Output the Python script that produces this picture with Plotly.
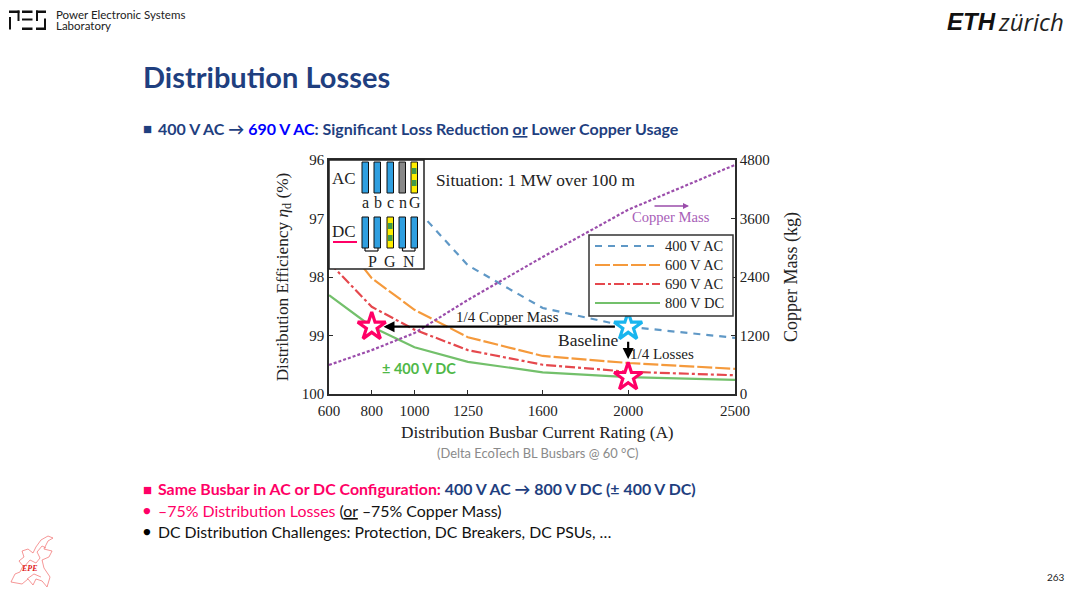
import plotly.graph_objs as go

# the page keeps its 8px body margin, so the figure is 8px smaller and shifted
PAGE_W = 1080
PAGE_H = 591
OFFSET = 8
W = PAGE_W - 2 * OFFSET
H = PAGE_H - OFFSET

# data
current = [600, 800, 1000, 1250, 1600, 2000, 2500]
eta_400ac = [95.6, 96.2, 96.8, 97.8, 98.53, 98.85, 99.04]
eta_600ac = [97.1, 98.02, 98.56, 99.03, 99.35, 99.47, 99.57]
eta_690ac = [97.75, 98.51, 98.9, 99.25, 99.5, 99.62, 99.68]
eta_800dc = [98.31, 98.85, 99.2, 99.45, 99.63, 99.71, 99.76]
copper_mass = [595, 900, 1250, 1930, 2810, 3780, 4700]

star_red_x = [800, 2000]
star_red_y = [98.85, 99.71]
star_blue_x = [2000]
star_blue_y = [98.85]

x_ticks = [600, 800, 1000, 1250, 1600, 2000, 2500]
eta_ticks = [96, 97, 98, 99, 100]
mass_ticks = [0, 1200, 2400, 3600, 4800]

NAVY = "#1f3f7f"
PINK = "#ff0066"
SERIF = "Liberation Serif"
SANS = "Lato"
DARK = "#2b2b2b"
BLUE_LINE = "#5f98c6"
ORANGE_LINE = "#f59a3c"
RED_LINE = "#e5484d"
GREEN_LINE = "#73c06b"
DASH_400 = "7px,6px"
DASH_600 = "15px,3px"
DASH_690 = "10px,3px,3px,3px"


def px(x):
    return (x - OFFSET) / W


def py(y):
    return 1 - (y - OFFSET) / H


def rect(x0, y0, x1, y1, fill, line=None, lw=0):
    return dict(type="rect", xref="paper", yref="paper", layer="above",
                x0=px(x0), y0=py(y0), x1=px(x1), y1=py(y1),
                fillcolor=fill, line=dict(color=line or fill, width=lw))


def seg(x0, y0, x1, y1, color="#111111", lw=1.2, dash="solid"):
    return dict(type="line", xref="paper", yref="paper", layer="above",
                x0=px(x0), y0=py(y0), x1=px(x1), y1=py(y1),
                line=dict(color=color, width=lw, dash=dash))


def squiggle(points, color="#f06a6a", lw=0.7):
    path = "M " + " L ".join(f"{px(a):.4f} {py(b):.4f}" for a, b in points)
    return dict(type="path", xref="paper", yref="paper", path=path, layer="above",
                line=dict(color=color, width=lw))


def label(x, y, text, size, color="#000000", family=SANS, anchor="left"):
    # left anchored annotations sit about 2px to the right of x
    if anchor == "left":
        x = x - 2
    return dict(xref="paper", yref="paper", x=px(x), y=py(y), text=text,
                showarrow=False, xanchor=anchor, yanchor="middle",
                font=dict(size=size, color=color, family=family))


fig = go.Figure()

fig.add_trace(go.Scatter(x=current, y=eta_400ac, name="400 V AC", mode="lines",
                         line=dict(color=BLUE_LINE, width=2.2, dash=DASH_400)))
fig.add_trace(go.Scatter(x=current, y=eta_600ac, name="600 V AC", mode="lines",
                         line=dict(color=ORANGE_LINE, width=2.2, dash=DASH_600)))
fig.add_trace(go.Scatter(x=current, y=eta_690ac, name="690 V AC", mode="lines",
                         line=dict(color=RED_LINE, width=2.2, dash=DASH_690)))
fig.add_trace(go.Scatter(x=current, y=eta_800dc, name="800 V DC", mode="lines",
                         line=dict(color=GREEN_LINE, width=2.2)))
fig.add_trace(go.Scatter(x=current, y=copper_mass, name="Copper Mass", mode="lines", yaxis="y2",
                         line=dict(color="#9b4dab", width=2.2, dash="3px,2px")))
fig.add_trace(go.Scatter(x=star_red_x, y=star_red_y, mode="markers",
                         marker=dict(symbol="star", size=21, color="white",
                                     line=dict(color=PINK, width=3.2))))
fig.add_trace(go.Scatter(x=star_blue_x, y=star_blue_y, mode="markers",
                         marker=dict(symbol="star", size=21, color="white",
                                     line=dict(color="#19b5ee", width=3.2))))

# inset with the busbar arrangement
shapes = [rect(329, 160, 424, 269, "white", "#222222", 1.5)]
for x0 in [362, 374, 387]:
    shapes.append(rect(x0, 162, x0 + 6.5, 193, "#2f9fe0", "#111111", 1))
shapes.append(rect(399, 162, 405.5, 193, "#888888", "#111111", 1))
for x0 in [362, 374, 399, 411]:
    shapes.append(rect(x0, 217, x0 + 6.5, 248, "#2f9fe0", "#111111", 1))
# yellow and green ground bars
for x0, top in [(411, 162), (387, 217)]:
    shapes.append(rect(x0, top, x0 + 6.5, top + 31, "#ffee00", "#111111", 1))
    shapes.append(rect(x0 + 1, top + 6, x0 + 5.5, top + 12, "#3f9a4a"))
    shapes.append(rect(x0 + 1, top + 18, x0 + 5.5, top + 24, "#3f9a4a"))
for x0, x1 in [(365, 378), (402.5, 415)]:
    shapes.append(seg(x0, 248, x0, 251))
    shapes.append(seg(x1, 248, x1, 251))
    shapes.append(seg(x0, 251, x1, 251))
shapes.append(seg(333, 242, 357, 242, PINK, 2))

# legend box, the native one has too much row height
shapes.append(rect(589, 235, 733, 316, "white", "#333333", 1.5))
shapes.append(seg(595, 246, 660, 246, BLUE_LINE, 2.2, DASH_400))
shapes.append(seg(595, 265, 660, 265, ORANGE_LINE, 2.2, DASH_600))
shapes.append(seg(595, 284, 660, 284, RED_LINE, 2.2, DASH_690))
shapes.append(seg(595, 303, 660, 303, GREEN_LINE, 2.2))

# PES logo bars
for box in [(9, 10.5, 19.5, 13), (17.5, 10.5, 19.5, 21), (9, 17, 11, 29.5),
            (22, 10.5, 32.5, 13), (22, 18.5, 32.5, 20.5), (22, 27.5, 32.5, 30),
            (36, 10.5, 46, 13), (36, 10.5, 38, 21), (44, 18.5, 46, 30), (36, 27.5, 46, 30)]:
    shapes.append(rect(box[0], box[1], box[2], box[3], "#111111"))

# EPE map outline, drawn by hand
shapes.append(squiggle([(11, 582), (15, 574), (20, 572), (23, 566), (19, 561), (24, 557), (22, 551),
                        (28, 549), (33, 553), (36, 547), (41, 540), (48, 536), (53, 538), (48, 541),
                        (44, 549), (52, 551), (49, 557), (42, 560), (44, 568), (50, 577), (47, 587),
                        (42, 581), (36, 579), (33, 585), (28, 579), (22, 584), (11, 582)]))
shapes.append(squiggle([(24, 567), (30, 560), (36, 563), (40, 558), (37, 552), (42, 546), (46, 548)]))
shapes.append(squiggle([(27, 579), (34, 574), (41, 577)]))

annotations = [
    # slide text
    label(56, 14.5, "Power Electronic Systems", 11.5, "#222222"),
    label(56, 26, "Laboratory", 11.5, "#222222"),
    label(947, 21, "<b><i>ETH</i></b>", 24, "#111111", "Liberation Sans"),
    label(998, 21, "<i>zürich</i>", 24, "#222222", "Open Sans"),
    label(143, 77, "<b>Distribution Losses</b>", 29, NAVY),
    label(143, 128, "■", 15, NAVY),
    label(158, 128, "<b>400 V AC → <span style='color:#0000ff'>690 V AC</span>: Significant Loss "
                    "Reduction <u>or</u> Lower Copper Usage</b>", 16, NAVY),
    label(537, 453, "(Delta EcoTech BL Busbars @ 60 °C)", 12.9, "#8a8a8a", anchor="center"),
    label(143, 489, "■", 15, PINK),
    label(158, 489, "<b>Same Busbar in AC or DC Configuration: "
                    f"<span style='color:{NAVY}'>400 V AC → 800 V DC (± 400 V DC)</span></b>", 15.9, PINK),
    label(143, 510, "●", 13, PINK),
    label(158, 510, "–75% Distribution Losses <span style='color:#111111'>(<u>or</u> –75% Copper Mass)</span>",
          15.9, PINK),
    label(143, 531, "●", 13, "#000000"),
    label(158, 531, "DC Distribution Challenges: Protection, DC Breakers, DC PSUs, …", 15.8, "#111111"),
    label(1056, 577, "263", 10, "#222222", anchor="center"),
    label(29, 568, "<b><i>EPE</i></b>", 8, "#e02020", "Liberation Serif", "center"),
    # inset text
    label(344, 178, "AC", 17, "#222222", SERIF, "center"),
    label(344, 231, "DC", 17, "#222222", SERIF, "center"),
    label(365.5, 203, "a", 16, "#222222", SERIF, "center"),
    label(377.5, 203, "b", 16, "#222222", SERIF, "center"),
    label(390, 203, "c", 16, "#222222", SERIF, "center"),
    label(402.5, 203, "n", 16, "#222222", SERIF, "center"),
    label(415, 203, "G", 16, "#222222", SERIF, "center"),
    label(372, 261, "P", 16, "#222222", SERIF, "center"),
    label(390, 261, "G", 16, "#222222", SERIF, "center"),
    label(408.5, 261, "N", 16, "#222222", SERIF, "center"),
    # legend text
    label(665, 246, "400 V AC", 14.5, "#222222", SERIF),
    label(665, 265, "600 V AC", 14.5, "#222222", SERIF),
    label(665, 284, "690 V AC", 14.5, "#222222", SERIF),
    label(665, 303, "800 V DC", 14.5, "#222222", SERIF),
    # chart notes
    label(436, 180, "Situation: 1 MW over 100 m", 17.3, "#222222", SERIF),
    label(671, 217, "Copper Mass", 14.6, "#a860b8", SERIF, "center"),
    label(507, 317, "1/4 Copper Mass", 15, "#222222", SERIF, "center"),
    label(588, 340, "Baseline", 17.5, "#222222", SERIF, "center"),
    label(630, 354, "1/4 Losses", 15, "#222222", SERIF),
    label(382, 368, "<b>± 400 V DC</b>", 14.5, "#4fb848"),
    # x title is off the axis centre in the reference
    label(537.5, 432, "Distribution Busbar Current Rating (A)", 17.3, "#222222", SERIF, "center"),
    # arrows
    dict(xref="x", yref="y", axref="x", ayref="y", x=855, y=98.85, ax=1945, ay=98.85, text="",
         showarrow=True, arrowhead=2, arrowsize=1, arrowwidth=2.2, arrowcolor="#000000"),
    dict(xref="x", yref="y", axref="x", ayref="y", x=2000, y=99.4, ax=2000, ay=99.08, text="",
         showarrow=True, arrowhead=2, arrowsize=1, arrowwidth=2.2, arrowcolor="#000000"),
    dict(xref="paper", yref="paper", axref="pixel", ayref="pixel", x=px(689), y=py(206), ax=-36, ay=0,
         text="", showarrow=True, arrowhead=2, arrowsize=0.8, arrowwidth=1.5, arrowcolor="#9b4dab"),
]

axis_font = dict(family=SERIF, size=15, color="#222222")
title_font = dict(family=SERIF, size=17.3, color="#222222")

fig.update_layout(
    width=W,
    height=H,
    margin=dict(l=0, r=0, t=0, b=0, pad=0, autoexpand=False),
    paper_bgcolor="white",
    plot_bgcolor="white",
    xaxis=dict(domain=[px(329), px(735)], range=[600, 2500], tickvals=x_ticks,
               ticks="inside", ticklen=4, tickcolor=DARK, showgrid=False, zeroline=False,
               showline=True, mirror=True, linecolor=DARK, linewidth=1.5, tickfont=axis_font,
               ticklabelstandoff=2),
    yaxis=dict(domain=[py(394), py(160)], range=[100, 96], tickvals=eta_ticks,
               ticks="inside", ticklen=4, tickcolor=DARK, showgrid=False, zeroline=False,
               showline=True, linecolor=DARK, linewidth=1.5, tickfont=axis_font,
               title=dict(text="Distribution Efficiency <i>η</i><sub>d</sub> (%)", font=title_font, standoff=9)),
    yaxis2=dict(overlaying="y", side="right", range=[0, 4800], tickvals=mass_ticks,
                ticks="inside", ticklen=4, tickcolor=DARK, showgrid=False, zeroline=False,
                showline=True, linecolor=DARK, linewidth=1.5, tickfont=axis_font,
                title=dict(text="Copper Mass (kg)", font=dict(family=SERIF, size=18, color="#222222"), standoff=16)),
    shapes=shapes,
    annotations=annotations,
    showlegend=False,
)

fig.write_html("out.html")
